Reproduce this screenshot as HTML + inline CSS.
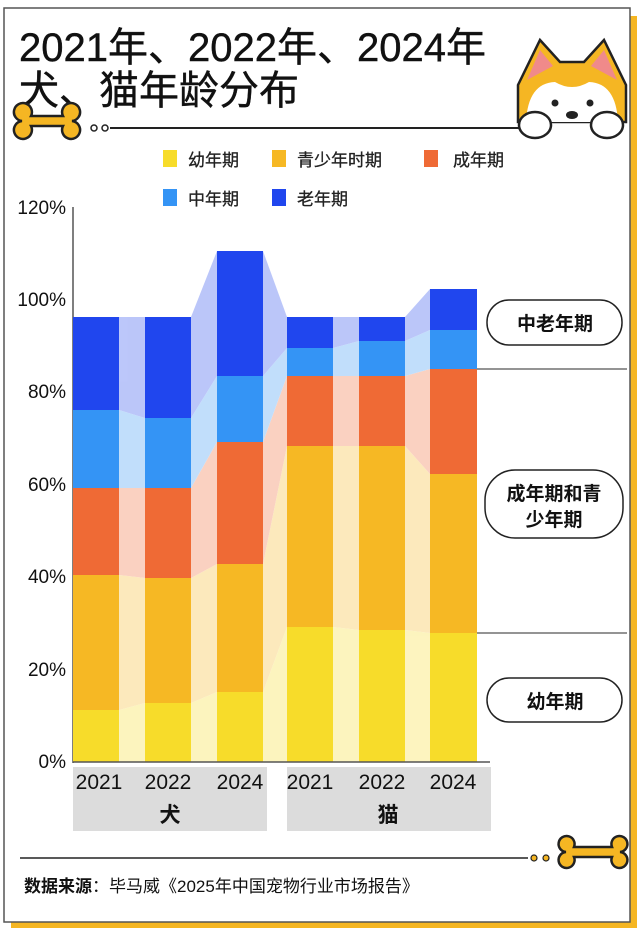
<!DOCTYPE html>
<html><head><meta charset="utf-8"><style>
html,body{margin:0;padding:0;background:#fff;}
svg text{font-family:"Liberation Sans","Noto Sans CJK SC",sans-serif;}
</style></head><body>
<svg width="640" height="932" viewBox="0 0 640 932" xmlns="http://www.w3.org/2000/svg">
<rect x="0" y="0" width="640" height="932" fill="#fff"/>
<rect x="11" y="16" width="626" height="912" fill="#f5b623"/>
<rect x="4" y="8" width="626" height="914" fill="#fff" stroke="#555" stroke-width="1.5"/>
<text x="19" y="61" font-size="40" fill="#111" stroke="#111" stroke-width="0.4">2021年、2022年、2024年</text>
<text x="19" y="104" font-size="40" fill="#111" stroke="#111" stroke-width="0.4">犬、猫年龄分布</text>
<path d="M22 121 a9 9 0 1 1 9 -5 h32 a9 9 0 1 1 9 5 a9 9 0 1 1 -9 5 h-32 a9 9 0 1 1 -9 -5z" fill="#f5b623" stroke="#222" stroke-width="2.5"/>
<circle cx="94" cy="128" r="3" fill="#fff" stroke="#222" stroke-width="1.5"/>
<circle cx="105" cy="128" r="3" fill="#fff" stroke="#222" stroke-width="1.5"/>
<line x1="110" y1="128" x2="520" y2="128" stroke="#222" stroke-width="2"/>
<g stroke="#222" stroke-width="2.5">
<path d="M518 122 L518 85 L540 40 L560 62 L584 62 L604 40 L626 85 L626 122 Z" fill="#f5b623"/>
<path d="M527 80 L540 50 L553 66 Z M617 80 L604 50 L591 66 Z" fill="#f08a8a" stroke="none"/>
<path d="M526 122 Q528 83 555 82 Q572 92 589 82 Q616 83 618 122 Z" fill="#fff" stroke="none"/>
<ellipse cx="535" cy="125" rx="16" ry="13" fill="#fff"/>
<ellipse cx="607" cy="125" rx="16" ry="13" fill="#fff"/>
</g>
<circle cx="555" cy="103" r="3.5" fill="#222"/><circle cx="590" cy="103" r="3.5" fill="#222"/>
<ellipse cx="572" cy="115" rx="6" ry="4" fill="#222"/>
<g font-size="17" fill="#222" stroke="#222" stroke-width="0.3">
<rect x="163" y="150" width="14" height="17" fill="#f7dc2a" stroke="none"/><text x="188" y="166">幼年期</text>
<rect x="272" y="150" width="14" height="17" fill="#f6b824" stroke="none"/><text x="297" y="166">青少年时期</text>
<rect x="424" y="150" width="14" height="17" fill="#ef6a35" stroke="none"/><text x="453" y="166">成年期</text>
<rect x="163" y="189" width="14" height="17" fill="#3494f5" stroke="none"/><text x="188" y="205">中年期</text>
<rect x="272" y="189" width="14" height="17" fill="#2046ee" stroke="none"/><text x="297" y="205">老年期</text>
</g>
<g font-size="19" fill="#111" text-anchor="end">
<text x="66" y="214">120%</text><text x="66" y="306">100%</text><text x="66" y="398">80%</text>
<text x="66" y="491">60%</text><text x="66" y="583">40%</text><text x="66" y="676">20%</text><text x="66" y="768">0%</text>
</g>
<line x1="73" y1="207" x2="73" y2="763" stroke="#555" stroke-width="1.5"/>
<g opacity="0.3">
<polygon points="119,710 145,703 145,762 119,762" fill="#f7dc2a"/>
<polygon points="119,575 145,578 145,703 119,710" fill="#f6b824"/>
<polygon points="119,488 145,488 145,578 119,575" fill="#ef6a35"/>
<polygon points="119,410 145,418 145,488 119,488" fill="#3494f5"/>
<polygon points="119,317 145,317 145,418 119,410" fill="#2046ee"/>
<polygon points="191,703 217,692 217,762 191,762" fill="#f7dc2a"/>
<polygon points="191,578 217,564 217,692 191,703" fill="#f6b824"/>
<polygon points="191,488 217,442 217,564 191,578" fill="#ef6a35"/>
<polygon points="191,418 217,376 217,442 191,488" fill="#3494f5"/>
<polygon points="191,317 217,251 217,376 191,418" fill="#2046ee"/>
<polygon points="263,692 287,627 287,762 263,762" fill="#f7dc2a"/>
<polygon points="263,564 287,446 287,627 263,692" fill="#f6b824"/>
<polygon points="263,442 287,376 287,446 263,564" fill="#ef6a35"/>
<polygon points="263,376 287,348 287,376 263,442" fill="#3494f5"/>
<polygon points="263,251 287,317 287,348 263,376" fill="#2046ee"/>
<polygon points="333,627 359,630 359,762 333,762" fill="#f7dc2a"/>
<polygon points="333,446 359,446 359,630 333,627" fill="#f6b824"/>
<polygon points="333,376 359,376 359,446 333,446" fill="#ef6a35"/>
<polygon points="333,348 359,341 359,376 333,376" fill="#3494f5"/>
<polygon points="333,317 359,317 359,341 333,348" fill="#2046ee"/>
<polygon points="405,630 430,633 430,762 405,762" fill="#f7dc2a"/>
<polygon points="405,446 430,474 430,633 405,630" fill="#f6b824"/>
<polygon points="405,376 430,369 430,474 405,446" fill="#ef6a35"/>
<polygon points="405,341 430,330 430,369 405,376" fill="#3494f5"/>
<polygon points="405,317 430,289 430,330 405,341" fill="#2046ee"/>
</g>
<g>
<rect x="73" y="710" width="46" height="52" fill="#f7dc2a"/><rect x="73" y="575" width="46" height="135" fill="#f6b824"/><rect x="73" y="488" width="46" height="87" fill="#ef6a35"/><rect x="73" y="410" width="46" height="78" fill="#3494f5"/><rect x="73" y="317" width="46" height="93" fill="#2046ee"/>
<rect x="145" y="703" width="46" height="59" fill="#f7dc2a"/><rect x="145" y="578" width="46" height="125" fill="#f6b824"/><rect x="145" y="488" width="46" height="90" fill="#ef6a35"/><rect x="145" y="418" width="46" height="70" fill="#3494f5"/><rect x="145" y="317" width="46" height="101" fill="#2046ee"/>
<rect x="217" y="692" width="46" height="70" fill="#f7dc2a"/><rect x="217" y="564" width="46" height="128" fill="#f6b824"/><rect x="217" y="442" width="46" height="122" fill="#ef6a35"/><rect x="217" y="376" width="46" height="66" fill="#3494f5"/><rect x="217" y="251" width="46" height="125" fill="#2046ee"/>
<rect x="287" y="627" width="46" height="135" fill="#f7dc2a"/><rect x="287" y="446" width="46" height="181" fill="#f6b824"/><rect x="287" y="376" width="46" height="70" fill="#ef6a35"/><rect x="287" y="348" width="46" height="28" fill="#3494f5"/><rect x="287" y="317" width="46" height="31" fill="#2046ee"/>
<rect x="359" y="630" width="46" height="132" fill="#f7dc2a"/><rect x="359" y="446" width="46" height="184" fill="#f6b824"/><rect x="359" y="376" width="46" height="70" fill="#ef6a35"/><rect x="359" y="341" width="46" height="35" fill="#3494f5"/><rect x="359" y="317" width="46" height="24" fill="#2046ee"/>
<rect x="430" y="633" width="47" height="129" fill="#f7dc2a"/><rect x="430" y="474" width="47" height="159" fill="#f6b824"/><rect x="430" y="369" width="47" height="105" fill="#ef6a35"/><rect x="430" y="330" width="47" height="39" fill="#3494f5"/><rect x="430" y="289" width="47" height="41" fill="#2046ee"/>
</g>
<line x1="73" y1="762" x2="490" y2="762" stroke="#555" stroke-width="1.5"/>
<line x1="477" y1="369" x2="627" y2="369" stroke="#555" stroke-width="1.2"/>
<line x1="477" y1="633" x2="627" y2="633" stroke="#555" stroke-width="1.2"/>
<g fill="#fff" stroke="#222" stroke-width="1.5">
<rect x="487" y="300" width="135" height="45" rx="22"/>
<rect x="485" y="470" width="138" height="68" rx="30"/>
<rect x="487" y="678" width="135" height="44" rx="22"/>
</g>
<g font-size="19" font-weight="bold" fill="#111" text-anchor="middle">
<text x="555" y="330">中老年期</text>
<text x="554" y="500">成年期和青</text>
<text x="554" y="526">少年期</text>
<text x="555" y="708">幼年期</text>
</g>
<rect x="73" y="767" width="194" height="64" fill="#dcdcdc"/>
<rect x="287" y="767" width="204" height="64" fill="#dcdcdc"/>
<g font-size="21" fill="#111" text-anchor="middle">
<text x="99" y="789">2021</text><text x="168" y="789">2022</text><text x="240" y="789">2024</text>
<text x="310" y="789">2021</text><text x="382" y="789">2022</text><text x="453" y="789">2024</text>
<text x="170" y="822" font-weight="bold">犬</text><text x="388" y="822" font-weight="bold">猫</text>
</g>
<line x1="20" y1="858" x2="528" y2="858" stroke="#222" stroke-width="1.5"/>
<circle cx="534" cy="858" r="3" fill="#f5b623" stroke="#222" stroke-width="1.2"/>
<circle cx="546" cy="858" r="3" fill="#f5b623" stroke="#222" stroke-width="1.2"/>
<path d="M566 852 a8 8 0 1 1 8 -5 h38 a8 8 0 1 1 8 5 a8 8 0 1 1 -8 5 h-38 a8 8 0 1 1 -8 -5z" fill="#f5b623" stroke="#222" stroke-width="2.5"/>
<text x="24" y="892" font-size="17" fill="#111"><tspan font-weight="bold">数据来源</tspan>：毕马威《2025年中国宠物行业市场报告》</text>
</svg>
</body></html>
